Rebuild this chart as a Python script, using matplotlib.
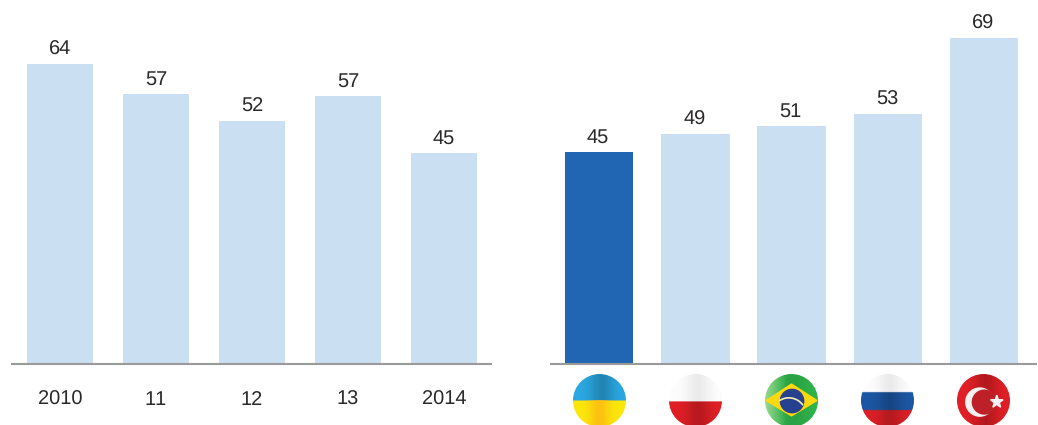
import numpy as np
import matplotlib
matplotlib.use('Agg')
import matplotlib.pyplot as plt
from matplotlib.patches import Circle, Polygon, Arc

plt.rcParams['font.family'] = ['Liberation Sans', 'DejaVu Sans']
plt.rcParams['text.hinting'] = 'none'
plt.rcParams['text.kerning_factor'] = 6

years = ['2010', '11', '12', '13', '2014']
year_labels = [64, 57, 52, 57, 45]
# bars in the original aren't drawn quite to their labels, so heights are read separately
year_heights = [64, 57.6, 51.9, 57.2, 45]
countries = ['Ukraine', 'Poland', 'Brazil', 'Russia', 'Turkey']
country_labels = [45, 49, 51, 53, 69]
country_heights = [45, 48.8, 50.5, 53, 69]

W, H = 1038, 425
LIGHT = '#cbdff3'
DARK = '#2166b2'
TEXT = '#2a2829'

fig = plt.figure(figsize=(W / 100, H / 100), dpi=100)


def px_axes(x0, x1, y_top, y_bottom):
    return fig.add_axes([x0 / W, 1 - y_bottom / H, (x1 - x0) / W, (y_bottom - y_top) / H])


def bars(ax, heights, labels, colors, width, xlim, px_per_unit, top_px, dx):
    x = np.arange(len(heights))
    ax.bar(x, heights, width=width, color=colors, linewidth=0)
    ax.set_xlim(*xlim)
    ax.set_ylim(0, top_px / px_per_unit)
    for s in ['top', 'left', 'right']:
        ax.spines[s].set_visible(False)
    ax.spines['bottom'].set_color('#9a9a9a')
    ax.spines['bottom'].set_linewidth(1.5)
    ax.set_yticks([])
    ax.patch.set_alpha(0)
    for i, v in enumerate(heights):
        ax.annotate(str(labels[i]), (i, v), xytext=(dx, 6.6), textcoords='offset points',
                    ha='center', va='baseline', fontsize=14.4, color=TEXT)


# left panel
ax1 = px_axes(12, 491, 0, 364)
bars(ax1, year_heights, year_labels, LIGHT, 0.69, (-0.5, 4.49), 4.69, 364, 0)
ax1.set_xticks(range(5))
ax1.set_xticklabels(years, fontsize=14.4, color=TEXT, va='baseline')
ax1.tick_params(axis='x', length=0, pad=29.5)

# right panel
ax2 = px_axes(551, 1036, 0, 364)
bars(ax2, country_heights, country_labels, [DARK] + [LIGHT] * 4, 0.71, (-0.5, 4.54), 4.72, 364, -0.7)
ax2.set_xticks([])


def hex_rgb(c):
    return np.array(matplotlib.colors.to_rgb(c))


def flag_axes(cx):
    r = 26.5
    a = fig.add_axes([(cx - r) / W, 1 - (400.5 + r) / H, 2 * r / W, 2 * r / H])
    a.set_xlim(-1, 1)
    a.set_ylim(-1, 1)
    a.axis('off')
    return a


def stripes(a, bands, glow=0.0):
    # bands: (y_top, y_bottom, colour, strength of the dark sheen)
    n = 240
    yy = np.linspace(1, -1, n)
    xx = np.linspace(-1, 1, n)
    sheen = np.exp(-((xx - 0.1) / 0.45) ** 2)
    img = np.ones((n, n, 3))
    for top, bottom, c, k in bands:
        row = hex_rgb(c)[None, :] * (1 - k * sheen)[:, None]
        img[(yy <= top) & (yy >= bottom), :] = row
    # lighter left edge on some of the flags
    mix = glow * np.clip(-xx - 0.2, 0, 1)[None, :, None] / 0.8
    img = img * (1 - mix) + np.array([0.75, 0.9, 0.65]) * mix
    im = a.imshow(np.clip(img, 0, 1), extent=(-1, 1, -1, 1), aspect='auto', zorder=1,
                  interpolation='bilinear')
    im.set_clip_path(Circle((0, 0), 1, transform=a.transData))


flag_centers = [599.5, 695.5, 791.5, 887.5, 983.5]

ua = flag_axes(flag_centers[0])
stripes(ua, [(1, 0, '#2aa8e2', 0.2), (0, -1, '#fce80a', 0.0)])
n = 120
ua_sheen = np.exp(-(np.linspace(-1, 1, n) / 0.4) ** 2)
ua_img = np.zeros((1, n, 4))
ua_img[..., :3] = hex_rgb('#fcb814')
ua_img[..., 3] = 0.8 * ua_sheen
im = ua.imshow(ua_img, extent=(-1, 1, -1, 0), aspect='auto', zorder=2, interpolation='bilinear')
im.set_clip_path(Circle((0, 0), 1, transform=ua.transData))
ua.set_xlim(-1, 1)
ua.set_ylim(-1, 1)

pl = flag_axes(flag_centers[1])
stripes(pl, [(1, -0.03, '#fdfdfd', 0.07), (-0.03, -1, '#e01f26', 0.18)])

br = flag_axes(flag_centers[2])
stripes(br, [(1, -1, '#2fb34a', 0.1)], glow=0.75)
br.add_patch(Polygon([(-0.96, 0), (0, 0.62), (0.96, 0), (0, -0.58)], color='#fcd80f', zorder=2))
br.add_patch(Circle((0.02, -0.02), 0.44, color='#27408f', zorder=3))
br.add_patch(Arc((-0.1, -0.55), 1.3, 1.3, theta1=35, theta2=125, color='#f6f0b0', lw=1.2, zorder=4))

ru = flag_axes(flag_centers[3])
stripes(ru, [(1, 0.32, '#fdfdfd', 0.07), (0.32, -0.36, '#1c57a5', 0.2), (-0.36, -1, '#de2027', 0.18)])

tr = flag_axes(flag_centers[4])
stripes(tr, [(1, -1, '#e21f26', 0.2)])
tr.add_patch(Circle((-0.14, -0.06), 0.53, color='#f6f1f1', zorder=2))
tr.add_patch(Circle((0.03, -0.06), 0.45, color='#bd2027', zorder=3))
ang = np.deg2rad(np.arange(10) * 36 + 90)
rad = np.where(np.arange(10) % 2 == 0, 0.25, 0.1)
tr.add_patch(Polygon(np.c_[0.5 + rad * np.cos(ang), -0.05 + rad * np.sin(ang)], color='#f6f1f1', zorder=4))

fig.savefig('out.png', dpi=100)
